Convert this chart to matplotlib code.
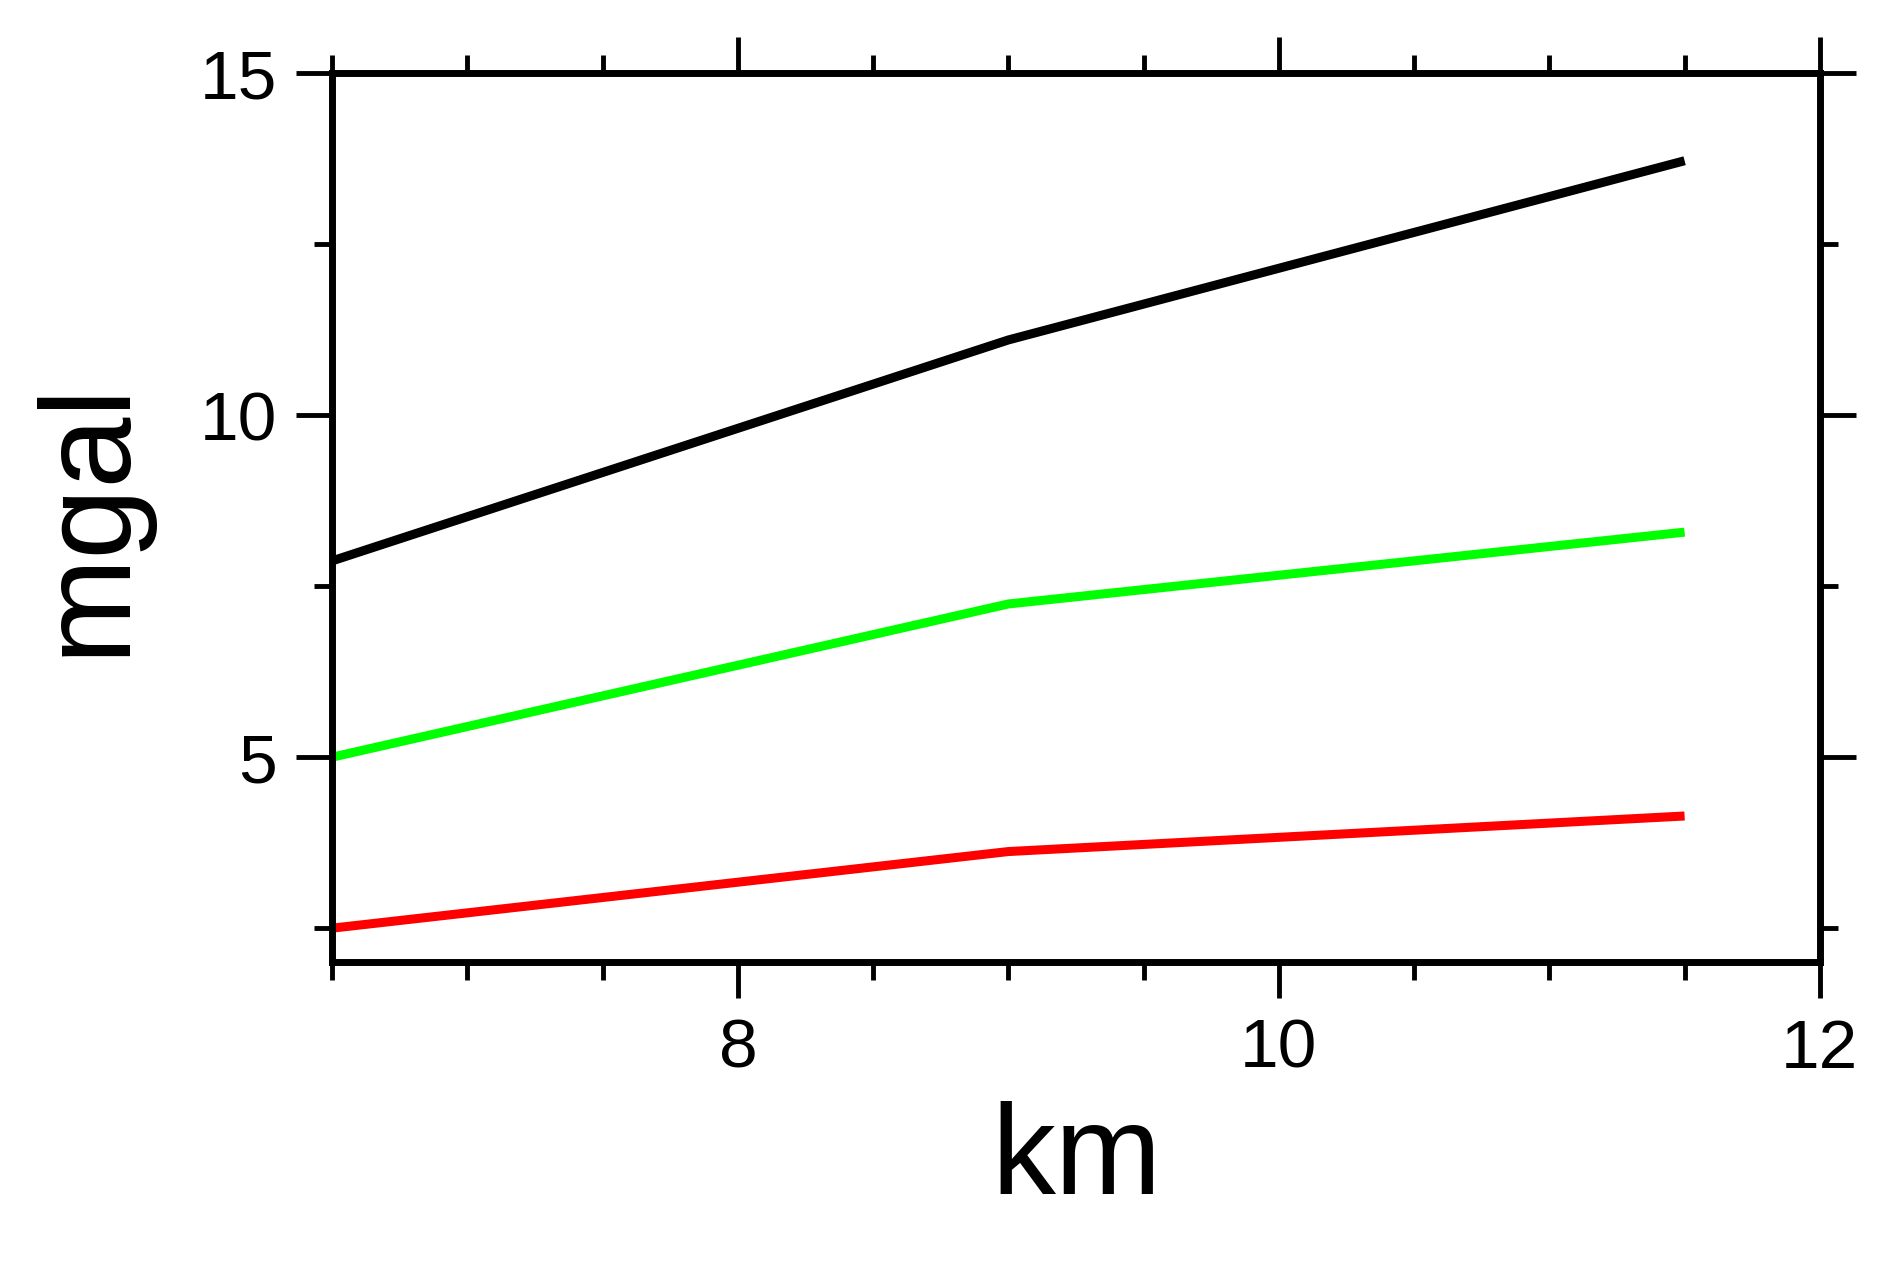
import matplotlib
matplotlib.use("Agg")
import matplotlib.pyplot as plt
from matplotlib.ticker import MultipleLocator

plt.rcParams['font.family'] = ['Liberation Sans', 'DejaVu Sans']

x = [6.5, 9.0, 11.5]
black = [7.87, 11.1, 13.72]
green = [5.0, 7.24, 8.29]
red = [2.5, 3.62, 4.14]

fig = plt.figure(figsize=(18.8, 12.84), dpi=100)
ax = fig.add_axes([0.1767, 0.2505, 0.7913, 0.6925])

ax.plot(x, black, color='black', lw=6.5, solid_capstyle='butt')
ax.plot(x, green, color='#00ff00', lw=6.5, solid_capstyle='butt')
ax.plot(x, red, color='#ff0000', lw=6.5, solid_capstyle='butt')

ax.set_xlim(6.5, 12)
ax.set_ylim(2, 15)
ax.xaxis.set_major_locator(MultipleLocator(2))
ax.xaxis.set_minor_locator(MultipleLocator(0.5))
ax.yaxis.set_major_locator(MultipleLocator(5))
ax.yaxis.set_minor_locator(MultipleLocator(2.5))
ax.tick_params(which='both', direction='out', top=True, right=True, width=3.5)
ax.tick_params(which='major', length=26, labelsize=50, pad=14)
ax.tick_params(which='minor', length=13)
for s in ax.spines.values():
    s.set_linewidth(5)

ax.set_xlabel('km', fontsize=92, labelpad=14)
ax.set_ylabel('mgal', fontsize=92, labelpad=36)

fig.savefig('out.png', dpi=100, facecolor='white')
